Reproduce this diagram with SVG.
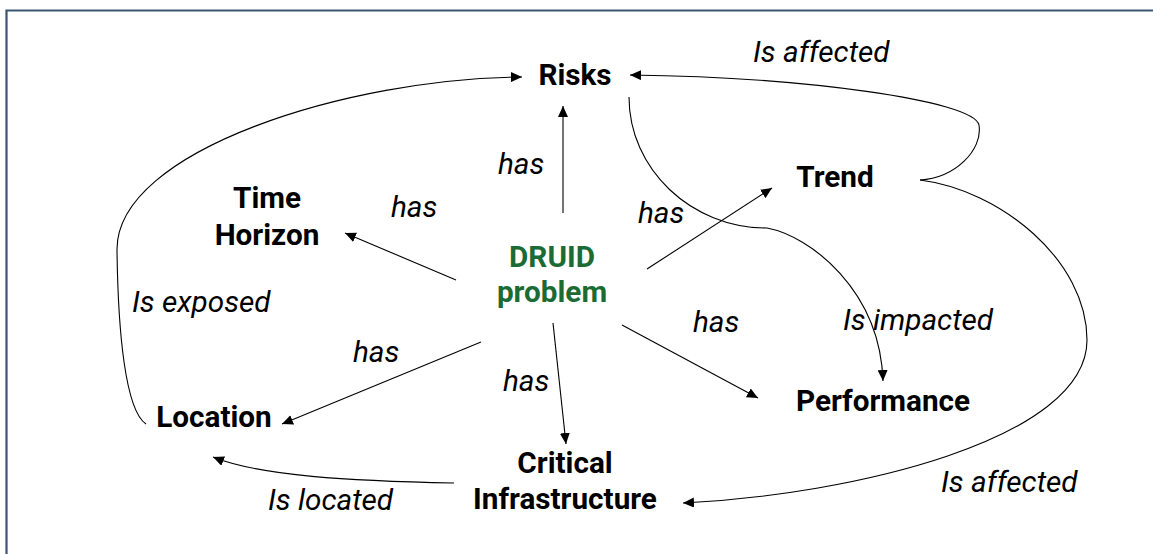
<svg xmlns="http://www.w3.org/2000/svg" width="1153" height="554" viewBox="0 0 1153 554">
<style>
.node{font-family:Roboto,"Liberation Sans",sans-serif;font-weight:bold;font-size:29.7px;fill:#000;text-anchor:middle}
.green{fill:#1c6b35}
.lbl{font-family:Roboto,"Liberation Sans",sans-serif;font-style:italic;font-size:29.7px;fill:#000}
.edge{fill:none;stroke:#000;stroke-width:1.1;marker-end:url(#ah)}
.frame{stroke:#3b5470;stroke-width:2.2;fill:none}
</style>
<defs>
<marker id="ah" markerUnits="userSpaceOnUse" markerWidth="12" markerHeight="10" refX="11" refY="5" orient="auto">
<path d="M0,0 L11,5 L0,10 Z" fill="#000"/>
</marker>
</defs>
<rect width="1153" height="554" fill="#fff"/>
<g id="frame">
<path class="frame" d="M6.5,554 L6.5,10.5 L1153,10.5"/>
</g>
<g id="connectors">
<path class="edge" d="M563,213 L563,106"/>
<path class="edge" d="M456,280 L345,233"/>
<path class="edge" d="M647,269 L772,188"/>
<path class="edge" d="M622,325 L758,398"/>
<path class="edge" d="M553,323 L566,444"/>
<path class="edge" d="M481,342 L282,424"/>
<path class="edge" d="M454,483 C 350,481 260,476 213,457"/>
<path class="edge" d="M146,424 C 125,410 118,330 117,250 C 116,150 350,78 522,77"/>
<path class="edge" d="M920,180 C 955,178 983,150 979,125 C 974,100 800,77 630,75"/>
<path class="edge" d="M629,97 C 629,169 691,228 767,228 C 810,236 880,290 883,381"/>
<path class="edge" d="M920,180 C 1000,190 1087,260 1087,340 C 1087,440 850,495 683,503"/>
</g>
<g id="labels">
<text class="lbl" x="753" y="62">Is affected</text>
<text class="lbl" x="498" y="174">has</text>
<text class="lbl" x="391" y="217">has</text>
<text class="lbl" x="638" y="223">has</text>
<text class="lbl" x="132" y="312">Is exposed</text>
<text class="lbl" x="353" y="362">has</text>
<text class="lbl" x="503" y="391">has</text>
<text class="lbl" x="693" y="332">has</text>
<text class="lbl" x="843" y="330">Is impacted</text>
<text class="lbl" x="941" y="492">Is affected</text>
<text class="lbl" x="268" y="510">Is located</text>
</g>
<g id="node-druid"><text class="node green" x="552" y="267">DRUID</text><text class="node green" x="552" y="302">problem</text></g>
<g id="node-risks"><text class="node" x="575" y="85">Risks</text></g>
<g id="node-time-horizon"><text class="node" x="267" y="208">Time</text><text class="node" x="267" y="245">Horizon</text></g>
<g id="node-trend"><text class="node" x="835" y="187">Trend</text></g>
<g id="node-location"><text class="node" x="214" y="427">Location</text></g>
<g id="node-critical-infrastructure"><text class="node" x="565" y="473">Critical</text><text class="node" x="565" y="509">Infrastructure</text></g>
<g id="node-performance"><text class="node" x="883" y="411">Performance</text></g>
</svg>
